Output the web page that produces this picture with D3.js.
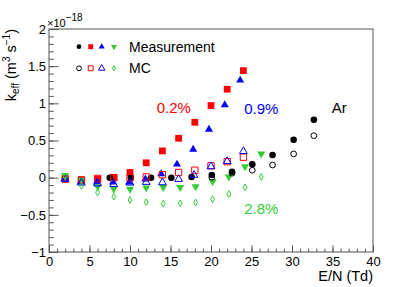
<!DOCTYPE html>
<html><head><meta charset="utf-8">
<script src="https://cdn.jsdelivr.net/npm/d3@7"></script>
<style>body{margin:0;background:#fff}svg{display:block}text{font-family:"Liberation Sans",Arial,sans-serif}</style>
</head><body><svg id="c" width="415" height="287"></svg>
<script>
// ---- data (k_eff in 1e-18 m^3 s^-1 vs E/N in Td) ----
const redMeasX = [2,4,6,8,10,12,14,16,18,20,22,24];
const redMeasY = [-0.01,-0.03,-0.02,0.005,0.07,0.20,0.36,0.53,0.745,0.97,1.19,1.44];
const redMcX   = [2,4,6,8,10,12,14,16,18,20,22,24];
const redMcY   = [-0.02,-0.03,-0.01,0.0,0.0,0.01,0.04,0.07,0.10,0.16,0.215,0.275];
const blueMeasX = [1.9,3.9,5.9,7.9,9.9,11.9,13.85,15.8,17.8,19.75,21.7,23.6];
const blueMeasY = [-0.01,-0.06,-0.06,-0.06,-0.06,-0.02,0.05,0.18,0.38,0.65,0.98,1.31];
const blueMcX   = [2,4,6,8,10,12,14,16,17.9,20,22,24];
const blueMcY   = [-0.02,-0.07,-0.08,-0.09,-0.07,-0.06,-0.065,-0.02,0.035,0.15,0.22,0.355];
const greenMeasX = [2,4,6,8,10,12,14.1,16.2,18.1,20.2,22.2,24.2,26.2];
const greenMeasY = [0.03,-0.03,-0.12,-0.15,-0.155,-0.135,-0.13,-0.13,-0.12,-0.05,0.01,0.15,0.32];
const greenMcX   = [2,4,6,8,10,12,14.1,16.2,18.1,20.2,22.2,24.2,26.2];
const greenMcY   = [0.01,-0.11,-0.2,-0.255,-0.3,-0.33,-0.35,-0.345,-0.335,-0.29,-0.22,-0.13,0.01];
const arMeasX = [7.5,10.1,12.6,15.1,17.6,20.1,22.6,25.1,27.6,30.2,32.7];
const arMeasY = [0.0,0.0,0.0,0.0,0.01,0.036,0.08,0.18,0.305,0.51,0.78];
const arMcX   = [20.1,22.6,25.1,27.6,30.2,32.7];
const arMcY   = [0.005,0.06,0.10,0.17,0.32,0.565];

const xTicks = [0,5,10,15,20,25,30,35,40];
const yTicks = [-1,-0.5,0,0.5,1,1.5,2];
const legendLabels = ["Measurement","MC"];
const annotations = [
  {text:"0.2%", x:13.3, y:0.87, color:"#ff0000"},
  {text:"0.9%", x:24.1, y:0.86, color:"#0000ff"},
  {text:"Ar",   x:34.9, y:0.87, color:"#000000"},
  {text:"2.8%", x:24.1, y:-0.49, color:"#33cc33"}
];

const W=415,H=287, L=49,R=373,T=29,B=252;
const svg=d3.select("#c");
const x=d3.scaleLinear([0,40],[L,R]);
const y=d3.scaleLinear([-1,2],[B,T]);

// axes (ticks inside, ROOT style)
const gx=svg.append("g").attr("transform",`translate(0,${B})`);
gx.call(d3.axisBottom(x).tickValues(d3.range(0,41,1)).tickSize(-3.3).tickFormat(""));
gx.call(g=>g.select(".domain").remove());
const gx2=svg.append("g").attr("transform",`translate(0,${B})`);
gx2.call(d3.axisBottom(x).tickValues(xTicks).tickSize(-6.6).tickPadding(5).tickFormat(d3.format("")));
gx2.select(".domain").remove();
gx2.selectAll("text").attr("font-size",13).attr("fill","#000").attr("font-family","Liberation Sans, Arial");

const gy=svg.append("g").attr("transform",`translate(${L},0)`);
gy.call(d3.axisLeft(y).tickValues(d3.range(-10,21,1).map(v=>v/10)).tickSize(-4.8).tickFormat(""));
gy.select(".domain").remove();
const gy2=svg.append("g").attr("transform",`translate(${L},0)`);
gy2.call(d3.axisLeft(y).tickValues(yTicks).tickSize(-9.6).tickPadding(3).tickFormat(d3.format("")));
gy2.select(".domain").remove();
gy2.selectAll("text").attr("font-size",13).attr("fill","#000").attr("font-family","Liberation Sans, Arial");
svg.selectAll(".tick line").attr("stroke","#555");

svg.append("rect").attr("x",L).attr("y",T).attr("width",R-L).attr("height",B-T)
  .attr("fill","none").attr("stroke","#555").attr("stroke-width",1);

// exponent
const ex=svg.append("text").attr("x",47).attr("y",27).attr("font-size",11);
ex.append("tspan").text("×10");
ex.append("tspan").attr("dy",-6).attr("font-size",10).text("−18");

// titles
svg.append("text").attr("x",R).attr("y",281).attr("text-anchor","end").attr("font-size",14.5).text("E/N (Td)");
const yt=svg.append("text").attr("transform",`translate(16,${T}) rotate(-90)`).attr("text-anchor","end").attr("font-size",14.5);
yt.append("tspan").text("k");
yt.append("tspan").attr("dy",3).attr("font-size",10).text("eff");
yt.append("tspan").attr("dy",-3).text(" (m");
yt.append("tspan").attr("dy",-6).attr("font-size",10).text("3");
yt.append("tspan").attr("dy",6).text(" s");
yt.append("tspan").attr("dy",-6).attr("font-size",10).text("−1");
yt.append("tspan").attr("dy",6).text(")");

// markers
const sym={
  circle:(s)=>d3.symbol(d3.symbolCircle,s)(),
  square:(s)=>d3.symbol(d3.symbolSquare,s)(),
  tri:(s)=>d3.symbol(d3.symbolTriangle,s)(),
  diamond:(s)=>d3.symbol(d3.symbolDiamond,s)()
};
function series(xs,ys,type,size,color,filled,rot){
  svg.append("g").selectAll("path").data(xs.map((v,i)=>[v,ys[i]])).join("path")
    .attr("d",sym[type](size))
    .attr("transform",d=>`translate(${x(d[0])},${y(d[1])})${rot?" rotate(180)":""}`)
    .attr("fill",filled?color:"none").attr("stroke",color).attr("stroke-width",filled?0:1);
}
const red="#ff0000", blue="#0000ff", green="#33cc33";
series(redMeasX,redMeasY,"square",46,red,true);
series(blueMeasX,blueMeasY,"tri",28,blue,true);
series(greenMeasX,greenMeasY,"tri",28,green,true,true);
series(arMeasX,arMeasY,"circle",34,"#000",true);
series(redMcX,redMcY,"square",40,red,false);
series(blueMcX,blueMcY,"tri",26,blue,false);
series(greenMcX,greenMcY,"diamond",13,green,false);
series(arMcX,arMcY,"circle",26,"#000",false);

// legend
const lg=svg.append("g");
const lx=[79,90.7,101.7,114], ly=[46.7,68.3];
const legMeas=[["circle",18,"#000",false],["square",24,red,false],["tri",16,blue,false],["tri",16,green,true]];
const legMc=[["circle",18,"#000"],["square",24,red],["tri",18,blue],["diamond",8,green]];
legMeas.forEach((m,i)=>lg.append("path").attr("d",sym[m[0]](m[1]))
  .attr("transform",`translate(${lx[i]},${ly[0]})${m[3]?" rotate(180)":""}`).attr("fill",m[2]));
legMc.forEach((m,i)=>lg.append("path").attr("d",sym[m[0]](m[1]))
  .attr("transform",`translate(${lx[i]},${ly[1]})`).attr("fill","none").attr("stroke",m[2]).attr("stroke-width",1));
legendLabels.forEach((t,i)=>lg.append("text").attr("x",129).attr("y",ly[i]+5).attr("font-size",14).text(t));

// annotations
annotations.forEach(a=>svg.append("text").attr("x",x(a.x)).attr("y",y(a.y)).attr("font-size",15)
  .attr("fill",a.color).text(a.text));
</script></body></html>
